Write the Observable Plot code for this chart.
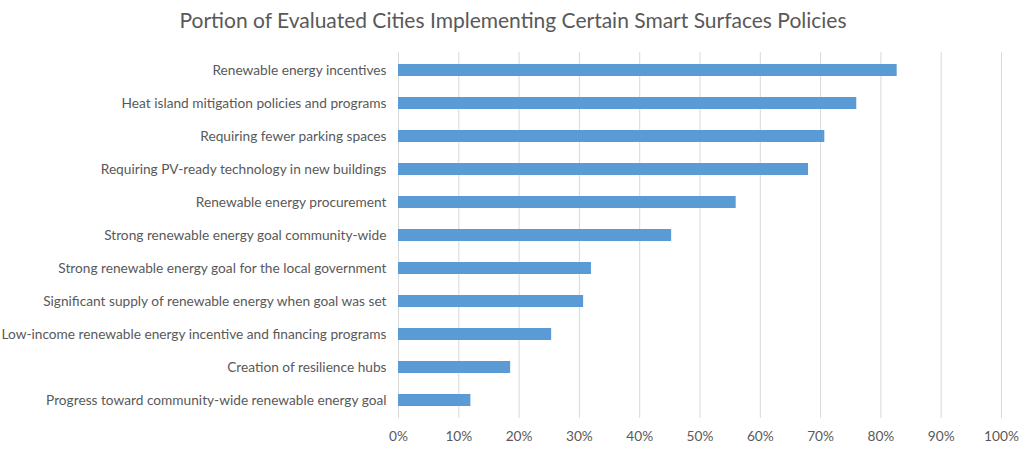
<!DOCTYPE html>
<html>
<head>
<meta charset="utf-8">
<script src="https://cdn.jsdelivr.net/npm/d3@7"></script>
<script src="https://cdn.jsdelivr.net/npm/@observablehq/plot@0.6"></script>
<style>
  body { margin: 0; background: #fff; font-family: Lato, "Open Sans", sans-serif; }
  #title { height: 40px; line-height: 40px; text-align: center; font-size: 21px; color: #595959; }
</style>
</head>
<body>
<div id="title">Portion of Evaluated Cities Implementing Certain Smart Surfaces Policies</div>
<div id="chart"></div>
<script>
const categories = [
  "Renewable energy incentives",
  "Heat island mitigation policies and programs",
  "Requiring fewer parking spaces",
  "Requiring PV-ready technology in new buildings",
  "Renewable energy procurement",
  "Strong renewable energy goal community-wide",
  "Strong renewable energy goal for the local government",
  "Significant supply of renewable energy when goal was set",
  "Low-income renewable energy incentive and financing programs",
  "Creation of resilience hubs",
  "Progress toward community-wide renewable energy goal"
];
const values = [0.827, 0.760, 0.707, 0.680, 0.560, 0.453, 0.320, 0.307, 0.254, 0.186, 0.120];
const xTicks = [0, 0.1, 0.2, 0.3, 0.4, 0.5, 0.6, 0.7, 0.8, 0.9, 1.0];

const data = categories.map((c, i) => ({category: c, value: values[i]}));

const chart = Plot.plot({
  width: 1026,
  height: 409,
  marginTop: 12,
  marginBottom: 31,
  marginLeft: 398,
  marginRight: 25,
  style: {fontFamily: "Lato, 'Open Sans', sans-serif", fontSize: "13.7px", color: "#595959"},
  x: {domain: [0, 1], ticks: xTicks, tickFormat: d => Math.round(d * 100) + "%", label: null},
  y: {domain: categories, label: null, paddingInner: 0.63, paddingOuter: 0.315},
  marks: [
    Plot.gridX(xTicks, {stroke: "#d9d9d9", strokeOpacity: 1, strokeWidth: 1}),
    Plot.barX(data, {x: "value", y: "category", fill: "#5b9bd5"}),
    Plot.axisX({ticks: xTicks, tickSize: 0, tickPadding: 13, tickFormat: d => Math.round(d * 100) + "%", fontSize: 13.7, fill: "#595959"}),
    Plot.axisY({tickSize: 0, tickPadding: 12, fontSize: 13.7, fill: "#595959"})
  ]
});
document.getElementById("chart").appendChild(chart);
</script>
</body>
</html>
